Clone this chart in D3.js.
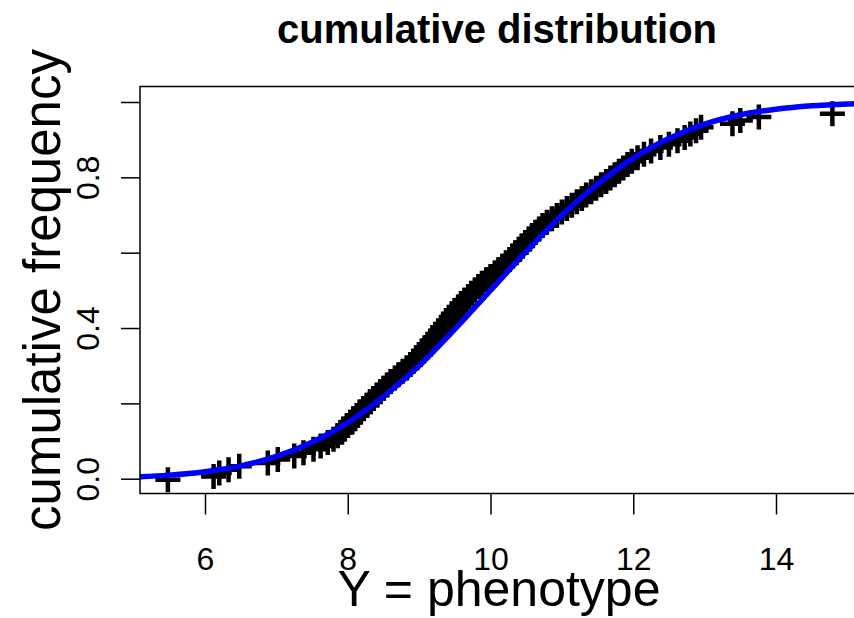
<!DOCTYPE html>
<html>
<head>
<meta charset="utf-8">
<script src="https://cdn.jsdelivr.net/npm/d3@7"></script>
<style>
  body { margin: 0; background: #fff; }
  svg { display: block; font-family: "Liberation Sans", Arial, sans-serif; }
</style>
</head>
<body>
<svg id="chart" width="854" height="618"></svg>
<script>
// empirical cdf: sorted phenotype values and their cumulative frequency
var phenotype = [
  5.48, 6.12, 6.20, 6.33, 6.48, 6.88, 7.02, 7.25, 7.38, 7.52,
  7.62, 7.72, 7.80, 7.86, 7.92, 7.96, 8.00, 8.04, 8.08, 8.13,
  8.18, 8.22, 8.27, 8.31, 8.36, 8.41, 8.46, 8.50, 8.55, 8.60,
  8.66, 8.71, 8.77, 8.83, 8.88, 8.92, 8.97, 9.02, 9.06, 9.10,
  9.14, 9.18, 9.22, 9.26, 9.30, 9.33, 9.37, 9.41, 9.45, 9.48,
  9.52, 9.56, 9.60, 9.64, 9.69, 9.73, 9.78, 9.83, 9.88, 9.94,
  10.00, 10.06, 10.11, 10.17, 10.22, 10.27, 10.31, 10.36, 10.41, 10.45,
  10.49, 10.54, 10.58, 10.63, 10.68, 10.73, 10.79, 10.86, 10.93, 11.00,
  11.07, 11.14, 11.21, 11.28, 11.34, 11.41, 11.48, 11.55, 11.62, 11.68,
  11.74, 11.80, 11.86, 11.92, 11.98, 12.06, 12.15, 12.25, 12.38, 12.50,
  12.62, 12.72, 12.80, 12.88, 12.95, 13.39, 13.50, 13.76, 14.79
];
var cumFreq = [
  -0.003, 0.006, 0.015, 0.024, 0.033, 0.042, 0.051, 0.060, 0.069, 0.078,
  0.087, 0.096, 0.105, 0.114, 0.123, 0.132, 0.141, 0.150, 0.159, 0.168,
  0.177, 0.186, 0.195, 0.204, 0.213, 0.222, 0.231, 0.240, 0.249, 0.258,
  0.267, 0.276, 0.285, 0.294, 0.303, 0.312, 0.321, 0.330, 0.339, 0.348,
  0.357, 0.366, 0.375, 0.384, 0.393, 0.402, 0.411, 0.420, 0.429, 0.438,
  0.447, 0.456, 0.465, 0.474, 0.483, 0.492, 0.501, 0.510, 0.519, 0.528,
  0.537, 0.546, 0.555, 0.564, 0.573, 0.582, 0.591, 0.600, 0.609, 0.618,
  0.627, 0.636, 0.645, 0.654, 0.663, 0.672, 0.681, 0.690, 0.699, 0.708,
  0.717, 0.726, 0.735, 0.744, 0.753, 0.762, 0.771, 0.780, 0.789, 0.798,
  0.807, 0.816, 0.825, 0.834, 0.843, 0.852, 0.861, 0.870, 0.879, 0.888,
  0.897, 0.906, 0.915, 0.924, 0.933, 0.942, 0.951, 0.960, 0.969
];

// fitted curve
var fitX = [4.5, 5.0, 5.5, 6.0, 6.5, 7.0, 7.5, 8.0, 8.5, 9.0, 9.5, 10.0,
            10.5, 11.0, 11.5, 12.0, 12.5, 13.0, 13.5, 14.0, 14.5, 15.0, 15.5];
var fitY = [0.002, 0.0046, 0.0095, 0.0186, 0.034, 0.059, 0.097, 0.149, 0.218, 0.300, 0.397, 0.500,
            0.603, 0.700, 0.782, 0.851, 0.903, 0.941, 0.966, 0.981, 0.990, 0.995, 0.998];

var xTicks = [6, 8, 10, 12, 14];
var yTicks = [0, 0.2, 0.4, 0.6, 0.8, 1.0];
var yLabelled = [0, 0.4, 0.8];

var box = {left: 140, top: 86.5, right: 856, bottom: 493.5};

var svg = d3.select('#chart');

var x = d3.scaleLinear().domain([6, 14]).range([205, 776]);
var y = d3.scaleLinear().domain([0, 1]).range([478.7, 102]);

svg.append('defs').append('clipPath')
    .attr('id', 'plotclip')
  .append('rect')
    .attr('x', box.left)
    .attr('y', box.top)
    .attr('width', box.right - box.left)
    .attr('height', box.bottom - box.top);

var plot = svg.append('g').attr('clip-path', 'url(#plotclip)');

// plus markers
var pts = phenotype.map(function(v, i) { return {x: v, y: cumFreq[i]}; });
var half = 12.5;
plot.append('g')
  .selectAll('path.pt')
  .data(pts)
  .enter()
    .append('path')
    .classed('pt', true)
    .attr('d', function(d) {
      var cx = x(d.x), cy = y(d.y);
      return 'M' + (cx - half) + ',' + cy + 'H' + (cx + half) +
             'M' + cx + ',' + (cy - half) + 'V' + (cy + half);
    })
    .attr('stroke', '#000')
    .attr('stroke-width', 4.5)
    .attr('fill', 'none');

// blue curve on top
var line = d3.line()
  .x(function(d) { return x(d[0]); })
  .y(function(d) { return y(d[1]); })
  .curve(d3.curveMonotoneX);

plot.append('path')
  .datum(fitX.map(function(v, i) { return [v, fitY[i]]; }))
  .attr('d', line)
  .attr('fill', 'none')
  .attr('stroke', '#0000ff')
  .attr('stroke-width', 5.5);

// box
svg.append('rect')
  .attr('x', box.left)
  .attr('y', box.top)
  .attr('width', box.right - box.left)
  .attr('height', box.bottom - box.top)
  .attr('fill', 'none')
  .attr('stroke', '#000')
  .attr('stroke-width', 1.5);

// x axis
var xAxis = d3.axisBottom(x)
  .tickValues(xTicks)
  .tickSize(21)
  .tickPadding(12)
  .tickFormat(d3.format('d'));

var gx = svg.append('g')
  .attr('transform', 'translate(0,' + box.bottom + ')')
  .call(xAxis);
gx.select('.domain').remove();
gx.selectAll('line').attr('stroke', '#000').attr('stroke-width', 1.5);
gx.selectAll('text')
  .attr('font-size', 32)
  .attr('font-family', '"Liberation Sans", Arial, sans-serif')
  .attr('fill', '#000')
  .attr('dy', null)
  .attr('y', 76);

// y axis
var yAxis = d3.axisLeft(y)
  .tickValues(yTicks)
  .tickSize(19)
  .tickFormat(function(d) { return yLabelled.indexOf(d) >= 0 ? d3.format('.1f')(d) : ''; });

var gy = svg.append('g')
  .attr('transform', 'translate(' + box.left + ',0)')
  .call(yAxis);
gy.select('.domain').remove();
gy.selectAll('line').attr('stroke', '#000').attr('stroke-width', 1.5);
gy.selectAll('text')
  .attr('font-size', 32)
  .attr('font-family', '"Liberation Sans", Arial, sans-serif')
  .attr('fill', '#000')
  .attr('x', null)
  .attr('dy', null)
  .attr('text-anchor', 'middle')
  .attr('transform', 'translate(-41,0) rotate(-90)');

// titles
svg.append('text')
  .attr('x', 497)
  .attr('y', 43)
  .attr('text-anchor', 'middle')
  .attr('font-size', 40)
  .attr('font-weight', 'bold')
  .text('cumulative distribution');

svg.append('text')
  .attr('x', 499)
  .attr('y', 606)
  .attr('text-anchor', 'middle')
  .attr('font-size', 50)
  .text('Y = phenotype');

svg.append('text')
  .attr('transform', 'translate(60,290) rotate(-90)')
  .attr('text-anchor', 'middle')
  .attr('font-size', 51)
  .text('cumulative frequency');
</script>
</body>
</html>
